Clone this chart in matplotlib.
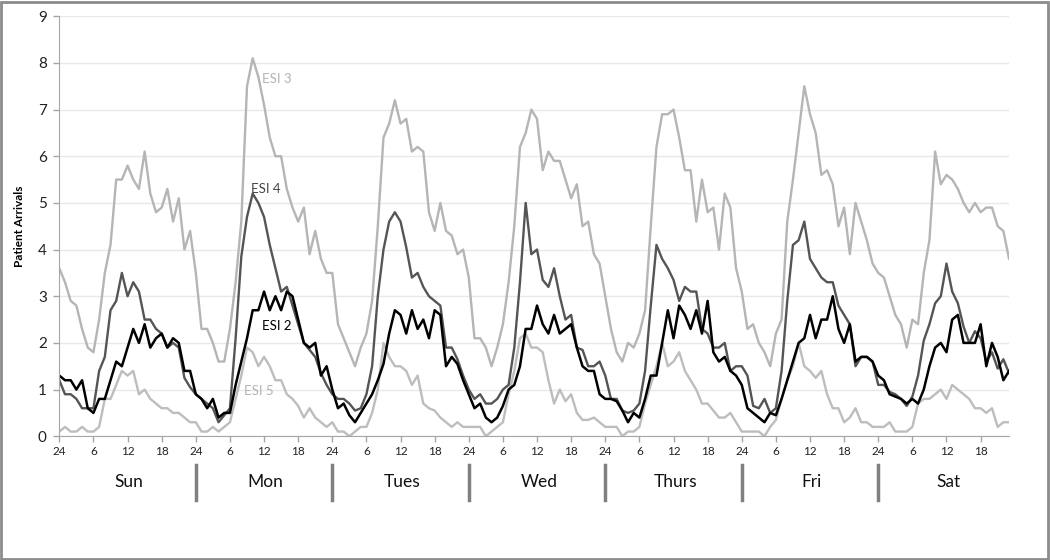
import numpy as np
import matplotlib
matplotlib.use('Agg')
import matplotlib.pyplot as plt
from matplotlib.patches import Rectangle
import matplotlib.transforms as mtransforms

plt.rcParams['font.family'] = ['Lato', 'DejaVu Sans']

days = ['Sun', 'Mon', 'Tues', 'Wed', 'Thurs', 'Fri', 'Sat']
hour_labels = ['24', '6', '12', '18']

# hourly mean arrivals, one row per day (Sun..Sat)
esi3 = [3.6, 3.3, 2.9, 2.8, 2.3, 1.9, 1.8, 2.5, 3.5, 4.1, 5.5, 5.5, 5.8, 5.5, 5.3, 6.1, 5.2, 4.8, 4.9, 5.3, 4.6, 5.1, 4.0, 4.4,
        3.5, 2.3, 2.3, 2.0, 1.6, 1.6, 2.3, 3.3, 4.6, 7.5, 8.1, 7.7, 7.1, 6.4, 6.0, 6.0, 5.3, 4.9, 4.6, 4.9, 3.9, 4.4, 3.8, 3.5,
        3.5, 2.4, 2.1, 1.8, 1.5, 1.9, 2.2, 2.9, 4.5, 6.4, 6.7, 7.2, 6.7, 6.8, 6.1, 6.2, 6.1, 4.8, 4.4, 5.0, 4.4, 4.3, 3.9, 4.0,
        3.4, 2.1, 2.1, 1.9, 1.5, 1.9, 2.4, 3.3, 4.5, 6.2, 6.5, 7.0, 6.8, 5.7, 6.1, 5.9, 5.9, 5.5, 5.1, 5.4, 4.5, 4.6, 3.9, 3.7,
        3.0, 2.3, 1.8, 1.6, 2.0, 1.9, 2.2, 2.7, 4.5, 6.2, 6.9, 6.9, 7.0, 6.4, 5.7, 5.7, 4.6, 5.5, 4.8, 4.9, 4.0, 5.2, 4.9, 3.6,
        3.1, 2.3, 2.4, 2.0, 1.8, 1.5, 2.2, 2.5, 4.6, 5.5, 6.5, 7.5, 6.9, 6.5, 5.6, 5.7, 5.4, 4.5, 4.9, 3.9, 5.0, 4.6, 4.2, 3.7,
        3.5, 3.4, 3.0, 2.6, 2.4, 1.9, 2.5, 2.4, 3.5, 4.2, 6.1, 5.4, 5.6, 5.5, 5.3, 5.0, 4.8, 5.0, 4.8, 4.9, 4.9, 4.5, 4.4, 3.8]

esi4 = [1.2, 0.9, 0.9, 0.8, 0.6, 0.6, 0.6, 1.4, 1.7, 2.7, 2.9, 3.5, 3.0, 3.3, 3.1, 2.5, 2.5, 2.3, 2.2, 1.9, 2.0, 1.9, 1.25, 1.05,
        0.9, 0.8, 0.7, 0.6, 0.3, 0.45, 0.6, 2.1, 3.85, 4.7, 5.2, 5.0, 4.7, 4.1, 3.6, 3.1, 3.2, 2.8, 2.4, 2.0, 1.85, 1.7, 1.35, 1.1,
        0.9, 0.8, 0.8, 0.7, 0.55, 0.6, 0.9, 1.5, 3.0, 4.0, 4.6, 4.8, 4.6, 4.05, 3.4, 3.5, 3.2, 3.0, 2.9, 2.8, 1.9, 1.9, 1.65, 1.3,
        1.0, 0.8, 0.9, 0.7, 0.7, 0.8, 1.0, 1.1, 1.9, 3.3, 5.0, 3.9, 4.0, 3.35, 3.2, 3.6, 3.0, 2.5, 2.6, 1.9, 1.85, 1.5, 1.5, 1.6,
        1.3, 0.8, 0.8, 0.55, 0.5, 0.55, 0.7, 1.4, 2.8, 4.1, 3.8, 3.6, 3.35, 2.9, 3.2, 3.1, 3.1, 2.3, 2.2, 1.9, 1.9, 2.0, 1.4, 1.5,
        1.5, 1.3, 0.65, 0.6, 0.8, 0.5, 0.6, 1.4, 2.9, 4.1, 4.2, 4.6, 3.8, 3.6, 3.4, 3.3, 3.3, 2.8, 2.6, 2.4, 1.5, 1.7, 1.7, 1.6,
        1.1, 1.1, 0.95, 0.9, 0.8, 0.65, 0.85, 1.3, 2.05, 2.4, 2.85, 3.0, 3.7, 3.1, 2.85, 2.35, 2.0, 2.25, 2.1, 1.6, 1.8, 1.45, 1.65, 1.35]

esi2 = [1.3, 1.2, 1.2, 1.0, 1.2, 0.6, 0.5, 0.8, 0.8, 1.2, 1.6, 1.5, 1.9, 2.3, 2.0, 2.4, 1.9, 2.1, 2.2, 1.9, 2.1, 2.0, 1.4, 1.4,
        0.9, 0.8, 0.6, 0.8, 0.4, 0.5, 0.5, 1.1, 1.6, 2.1, 2.7, 2.7, 3.1, 2.7, 3.0, 2.7, 3.1, 3.0, 2.5, 2.0, 1.9, 2.0, 1.3, 1.5,
        1.0, 0.6, 0.7, 0.45, 0.3, 0.5, 0.7, 0.9, 1.2, 1.55, 2.2, 2.7, 2.6, 2.2, 2.7, 2.3, 2.5, 2.1, 2.7, 2.6, 1.5, 1.7, 1.55, 1.2,
        0.9, 0.6, 0.7, 0.4, 0.3, 0.4, 0.65, 1.0, 1.1, 1.5, 2.3, 2.3, 2.8, 2.4, 2.2, 2.6, 2.2, 2.3, 2.4, 1.9, 1.5, 1.4, 1.4, 0.9,
        0.8, 0.8, 0.75, 0.55, 0.3, 0.5, 0.4, 0.8, 1.3, 1.3, 2.0, 2.7, 2.1, 2.8, 2.6, 2.3, 2.7, 2.2, 2.9, 1.8, 1.6, 1.7, 1.4, 1.3,
        1.1, 0.6, 0.5, 0.4, 0.3, 0.5, 0.45, 0.8, 1.2, 1.6, 2.0, 2.1, 2.6, 2.1, 2.5, 2.5, 3.0, 2.3, 2.0, 2.4, 1.6, 1.7, 1.7, 1.6,
        1.3, 1.2, 0.9, 0.85, 0.8, 0.7, 0.8, 0.7, 1.0, 1.5, 1.9, 2.0, 1.8, 2.5, 2.6, 2.0, 2.0, 2.0, 2.4, 1.5, 2.0, 1.7, 1.2, 1.4]

esi5 = [0.1, 0.2, 0.1, 0.1, 0.2, 0.1, 0.1, 0.2, 0.8, 0.8, 1.1, 1.4, 1.3, 1.4, 0.9, 1.0, 0.8, 0.7, 0.6, 0.6, 0.5, 0.5, 0.4, 0.3,
        0.3, 0.1, 0.1, 0.2, 0.1, 0.2, 0.3, 0.8, 1.3, 1.9, 1.8, 1.5, 1.7, 1.5, 1.2, 1.2, 0.9, 0.8, 0.65, 0.4, 0.6, 0.4, 0.3, 0.2,
        0.3, 0.1, 0.1, 0.0, 0.1, 0.2, 0.2, 0.5, 1.0, 2.0, 1.7, 1.5, 1.5, 1.4, 1.1, 1.3, 0.7, 0.6, 0.55, 0.4, 0.3, 0.2, 0.3, 0.2,
        0.2, 0.2, 0.2, 0.0, 0.1, 0.2, 0.3, 0.9, 1.4, 2.1, 2.2, 1.9, 1.9, 1.8, 1.2, 0.7, 1.0, 0.75, 0.9, 0.5, 0.35, 0.35, 0.4, 0.3,
        0.2, 0.2, 0.2, 0.0, 0.1, 0.1, 0.2, 0.7, 1.1, 1.5, 2.0, 1.5, 1.6, 1.8, 1.4, 1.2, 1.0, 0.7, 0.7, 0.55, 0.4, 0.4, 0.5, 0.3,
        0.1, 0.1, 0.1, 0.1, 0.0, 0.2, 0.35, 0.8, 1.2, 1.5, 2.0, 1.5, 1.4, 1.25, 1.4, 0.9, 0.6, 0.6, 0.3, 0.4, 0.6, 0.3, 0.3, 0.2,
        0.2, 0.2, 0.3, 0.1, 0.1, 0.1, 0.2, 0.7, 0.8, 0.8, 0.9, 1.0, 0.8, 1.1, 1.0, 0.9, 0.8, 0.6, 0.6, 0.5, 0.6, 0.2, 0.3, 0.3]

hours = np.arange(len(esi3))

fig = plt.figure(figsize=(10.5, 5.6), dpi=100)
ax = fig.add_axes([0.0565, 0.221, 0.9045, 0.750])

ax.plot(hours, esi5, color='#bdbdbd', lw=1.7)
ax.plot(hours, esi3, color='#b5b5b5', lw=1.7)
ax.plot(hours, esi4, color='#555555', lw=1.7)
ax.plot(hours, esi2, color='#000000', lw=1.8)

ax.set_xlim(0, 167)
ax.set_ylim(0, 9)
ax.set_yticks(range(10))
ax.yaxis.grid(True, color='#e8e8e8', lw=1)
ax.set_axisbelow(True)

ax.set_xticks(range(0, 168, 6))
ax.set_xticklabels([hour_labels[k % 4] for k in range(28)])

for s in ['top', 'right']:
    ax.spines[s].set_visible(False)
for s in ['left', 'bottom']:
    ax.spines[s].set_color('#a6a6a6')
ax.tick_params(axis='both', colors='#a6a6a6', length=4, width=1)
ax.tick_params(axis='y', labelsize=11, labelcolor='#222222', pad=5)
ax.tick_params(axis='x', labelsize=8.5, labelcolor='#222222', pad=3)
ax.set_ylabel('Patient Arrivals', fontsize=8.5, fontweight='bold', labelpad=9)

# day names and separators under the hour ticks
trans = mtransforms.blended_transform_factory(ax.transData, ax.transAxes)
for k, d in enumerate(days):
    ax.text(12 + 24 * k + 0.3, -0.109, d, transform=trans, ha='center', va='center',
            fontsize=12.5, color='#111111')
for k in range(1, 7):
    ax.plot([24 * k, 24 * k], [-0.068, -0.152], transform=trans, color='#808080',
            lw=2.5, clip_on=False)

# series labels
ax.text(35.6, 7.65, 'ESI 3', color='#b3b3b3', fontsize=9.5, va='center')
ax.text(33.7, 5.18, 'ESI 4', color='#444444', fontsize=9.5, va='bottom')
ax.text(35.6, 2.37, 'ESI 2', color='#000000', fontsize=9.5, va='center')
ax.text(32.4, 0.98, 'ESI 5', color='#b3b3b3', fontsize=9.5, va='center')

fig.patches.append(Rectangle((0.001, 0.002), 0.997, 0.995, transform=fig.transFigure,
                             fill=False, edgecolor='#8c8c8c', lw=2))

fig.savefig('out.png', dpi=100)
